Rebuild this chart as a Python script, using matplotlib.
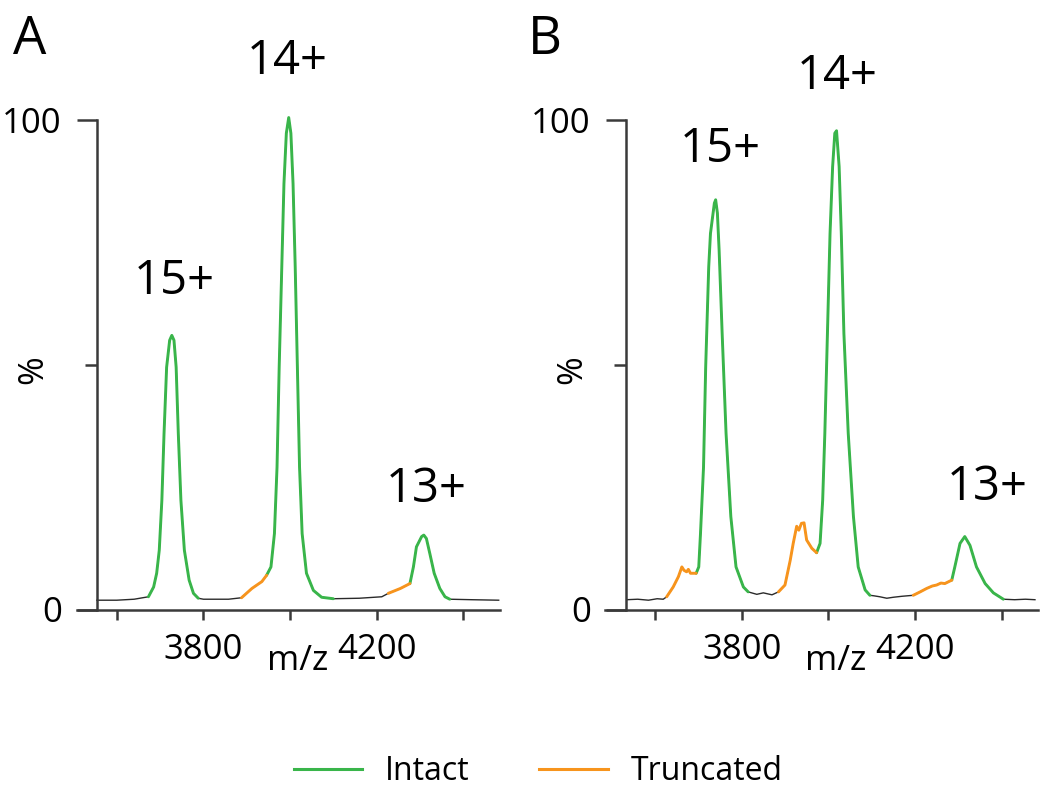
import numpy as np
import matplotlib
matplotlib.use('Agg')
import matplotlib.pyplot as plt
from matplotlib.lines import Line2D

plt.rcParams['font.family'] = ['Open Sans', 'DejaVu Sans']

# panel A spectrum (m/z, relative intensity %)
mz_a = [3554, 3600, 3640, 3673, 3685, 3692, 3698, 3704, 3709, 3715,
        3722, 3727, 3732, 3737, 3742, 3748, 3756, 3767, 3777, 3788,
        3800, 3858, 3888, 3912, 3935, 3946, 3956, 3964, 3970, 3975,
        3981, 3986, 3991.5, 3997, 4002, 4007, 4012, 4017, 4022, 4028,
        4038, 4054, 4073, 4100, 4160, 4212, 4227, 4255, 4277, 4285,
        4292, 4304, 4309, 4315, 4323, 4333, 4346, 4358, 4369, 4420,
        4482]
int_a = [1.9, 1.9, 2.1, 2.6, 4.6, 7.4, 12.1, 22.3, 35.9, 49.5,
         55, 56, 55, 49.5, 35.9, 22.3, 12.1, 6.0, 3.3, 2.3,
         2.1, 2.1, 2.4, 4.3, 5.7, 7.0, 8.7, 15.5, 29.1, 49.6,
         70, 87, 97.3, 100.5, 97.3, 87, 70, 49.6, 29.1, 15.5,
         7.4, 3.9, 2.5, 2.2, 2.3, 2.6, 3.3, 4.3, 5.3, 8.7,
         12.8, 14.9, 15.2, 14.5, 11.4, 7.4, 4.3, 2.6, 2.1, 2.0,
         1.9]
intact_a = [(3673, 3790), (3946, 4100), (4277, 4369)]
trunc_a = [(3888, 3946), (4227, 4277)]

# panel B spectrum
mz_b = [3535, 3560, 3585, 3605, 3619, 3627, 3642, 3654, 3662, 3667,
        3673, 3677, 3682, 3695, 3701, 3705, 3712, 3717, 3724, 3728,
        3737, 3740, 3744, 3748, 3755, 3764, 3775, 3787, 3804, 3815,
        3835, 3850, 3870, 3885, 3900, 3912, 3919, 3927, 3932, 3938,
        3944, 3950, 3962, 3973, 3981, 3987, 3992, 3998, 4004, 4010,
        4015, 4019, 4025, 4030, 4036, 4046, 4058, 4069, 4085, 4096,
        4105, 4119, 4135, 4150, 4170, 4196, 4212, 4227, 4240, 4250,
        4260, 4269, 4285, 4292, 4304, 4315, 4327, 4342, 4362, 4381,
        4404, 4430, 4455, 4477]
int_b = [2.0, 2.1, 1.9, 2.2, 2.1, 2.6, 4.6, 6.7, 8.7, 8.0,
         7.7, 8.2, 7.4, 7.4, 8.7, 15.5, 29.1, 49.6, 70, 76.8,
         83, 83.7, 81, 73.4, 56.4, 36, 19, 8.7, 4.6, 3.6,
         3.1, 3.4, 3.0, 3.6, 5.0, 10, 13.5, 17, 16.2, 17.6,
         17.7, 14.2, 12.5, 11.6, 13.5, 22.3, 36, 56.4, 76.8, 90.5,
         97.3, 97.8, 90.5, 76.8, 56.4, 36, 19, 8.7, 4.0, 2.9,
         2.8, 2.6, 2.3, 2.5, 2.7, 2.9, 3.6, 4.3, 4.8, 5.0,
         5.4, 5.3, 6.0, 8.7, 13.5, 14.9, 13.1, 8.7, 5.3, 3.4,
         2.1, 2.0, 2.1, 2.0]
intact_b = [(3695, 3815), (3973, 4096), (4285, 4404)]
trunc_b = [(3627, 3695), (3885, 3973), (4196, 4285)]

charges_a = [('15+', 3732, 67), ('14+', 3993, 112), ('13+', 4315, 24.6)]
charges_b = [('15+', 3750, 94), ('14+', 4020, 109), ('13+', 4367, 25)]

GREEN = '#39b54a'
ORANGE = '#f7941d'
AXC = '#3a3a3a'
FS = 25

fig = plt.figure(figsize=(10.5, 7.94), dpi=100)
bot = 1 - 609.5 / 794
hgt = 489.5 / 794
axA = fig.add_axes([77 / 1050, bot, 423 / 1050, hgt])
axB = fig.add_axes([605 / 1050, bot, 433 / 1050, hgt])


def panel(ax, mz, inten, intact, trunc, xlim, yx, charges):
    mz = np.array(mz)
    inten = np.array(inten)
    ax.plot(mz, inten, color='#2a2a2a', lw=1.0, clip_on=False)
    for segs, col in ((intact, GREEN), (trunc, ORANGE)):
        for lo, hi in segs:
            m = (mz >= lo) & (mz <= hi)
            ax.plot(mz[m], inten[m], color=col, lw=2.1,
                    solid_capstyle='round', solid_joinstyle='round', clip_on=False)
    ax.set_xlim(*xlim)
    ax.set_ylim(0, 100)
    ax.spines['top'].set_visible(False)
    ax.spines['right'].set_visible(False)
    ax.spines['left'].set_position(('data', yx))
    ax.spines['left'].set_bounds(0, 100)
    for s in ('left', 'bottom'):
        ax.spines[s].set_color(AXC)
        ax.spines[s].set_linewidth(1.8)
    ax.set_yticks([0, 100])
    ax.set_yticks([50], minor=True)
    ax.tick_params(axis='y', which='major', length=14.4, width=1.8, color=AXC,
                   labelsize=FS, pad=11)
    ax.tick_params(axis='y', which='minor', length=8.6, width=1.8, color=AXC)
    ax.set_xticks([3600, 3800, 4000, 4200, 4400])
    ax.set_xticklabels(['', '3800', '', '4200', ''])
    ax.tick_params(axis='x', length=7.2, width=1.8, color=AXC, labelsize=FS, pad=10)
    ax.patch.set_visible(False)
    ax.text(4018, -10.5, 'm/z', fontsize=FS, ha='center', va='center', clip_on=False)
    ax.text(3408, 49, '%', fontsize=FS, ha='center', va='center', rotation=90,
            clip_on=False)
    for lab, x, y in charges:
        ax.text(x, y, lab, fontsize=34, ha='center', va='center', clip_on=False)


panel(axA, mz_a, int_a, intact_a, trunc_a, (3508, 4485), 3554.6, charges_a)
panel(axB, mz_b, int_b, intact_b, trunc_b, (3484.6, 4484), 3533, charges_b)

fig.text(30 / 1050, 1 - 40 / 794, 'A', fontsize=38, ha='center', va='center')
fig.text(545 / 1050, 1 - 40 / 794, 'B', fontsize=38, ha='center', va='center')

handles = [Line2D([], [], color=GREEN, lw=2.2), Line2D([], [], color=ORANGE, lw=2.2)]
fig.legend(handles, ['Intact', 'Truncated'], loc='center',
           bbox_to_anchor=(538 / 1050, 1 - 772 / 794), ncol=2, frameon=False,
           fontsize=23, handlelength=2.15, handletextpad=0.7, columnspacing=2.2)

fig.savefig('out.png', dpi=100)
